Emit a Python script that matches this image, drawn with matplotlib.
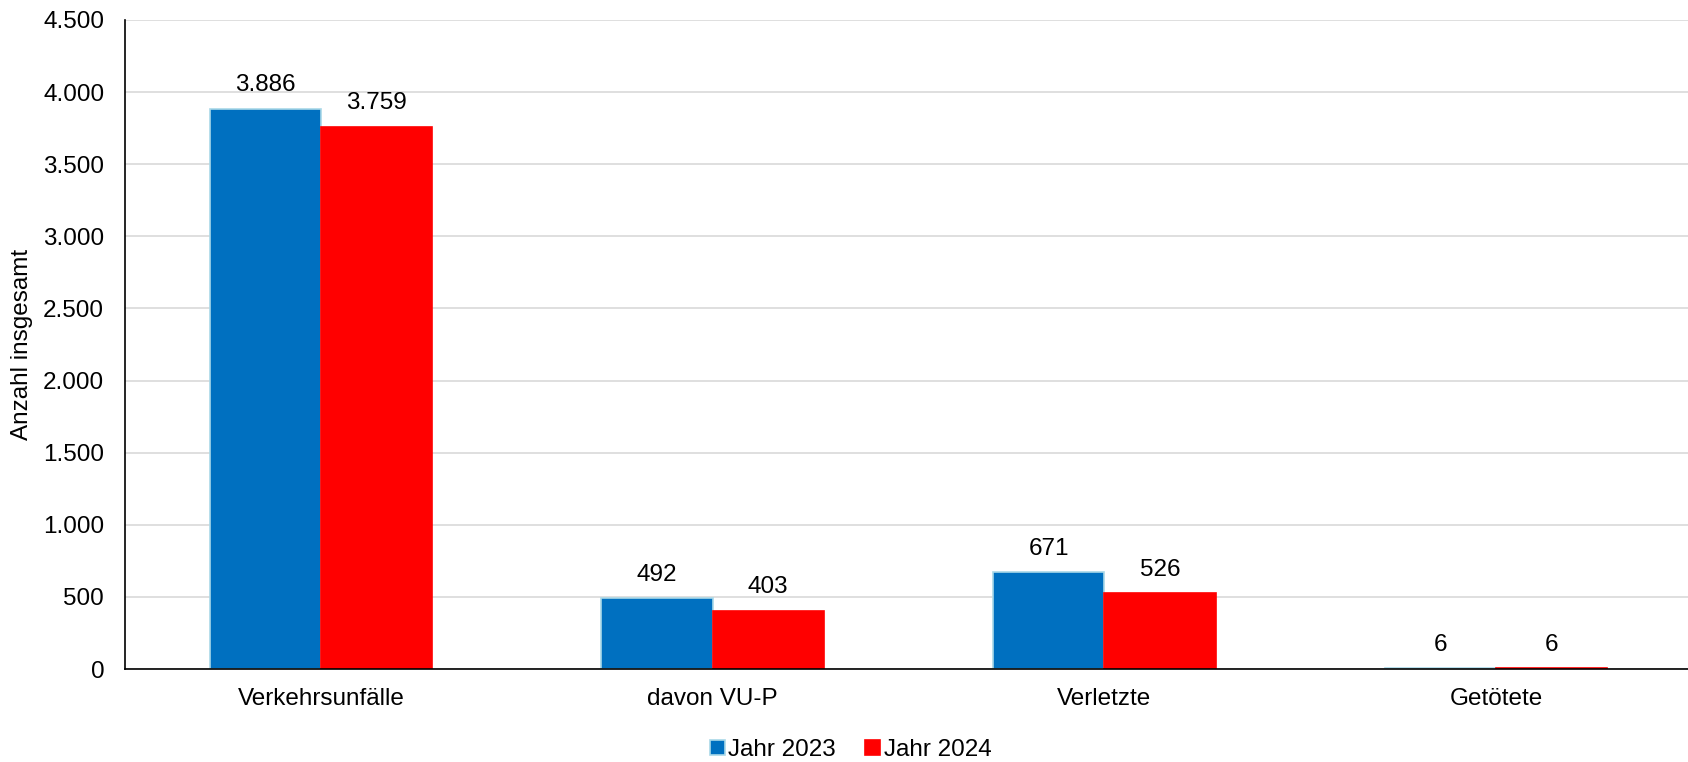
import matplotlib.pyplot as plt
from matplotlib.ticker import FuncFormatter
import numpy as np

plt.rcParams['font.family'] = ['Liberation Sans', 'DejaVu Sans']

kategorien = ['Verkehrsunfälle', 'davon VU-P', 'Verletzte', 'Getötete']
jahr_2023 = [3886, 492, 671, 6]
jahr_2024 = [3759, 403, 526, 6]


def de_format(v, pos=None):
    return '{:,.0f}'.format(v).replace(',', '.')


fig = plt.figure(figsize=(16.88, 7.62), dpi=100)
ax = fig.add_axes([125 / 1688, 1 - 669 / 762, 1567 / 1688, (669 - 20) / 762])

x = np.arange(len(kategorien))
w = 0.284
b1 = ax.bar(x - w / 2, jahr_2023, w, color='#0070C0', edgecolor='#A9D8E8', linewidth=1.2, label='Jahr 2023')
b2 = ax.bar(x + w / 2, jahr_2024, w, color='#FF0000', edgecolor='#FF0000', linewidth=1.2, label='Jahr 2024')

fs = 17.5
for bars, vals in [(b1, jahr_2023), (b2, jahr_2024)]:
    for r, v in zip(bars, vals):
        ax.annotate(de_format(v), (r.get_x() + r.get_width() / 2, v),
                    xytext=(0, 9), textcoords='offset points',
                    ha='center', va='bottom', fontsize=fs)

ax.set_xlim(-0.5, 3.5)
ax.set_ylim(0, 4500)
ax.set_yticks(np.arange(0, 4501, 500))
ax.yaxis.set_major_formatter(FuncFormatter(de_format))
ax.set_xticks(x)
ax.set_xticklabels(kategorien)
ax.tick_params(axis='both', length=0, labelsize=fs)
ax.tick_params(axis='x', pad=14)
ax.tick_params(axis='y', pad=15)
ax.set_ylabel('Anzahl insgesamt', fontsize=fs, labelpad=7)

ax.grid(axis='y', color='#D9D9D9', linewidth=1.2)
ax.set_axisbelow(True)
for s in ['top', 'right']:
    ax.spines[s].set_visible(False)
ax.spines['left'].set_linewidth(1.2)
ax.spines['bottom'].set_linewidth(1.2)

fig.legend(loc='center', bbox_to_anchor=(0.504, 1 - 750 / 762), ncol=2, frameon=False,
           fontsize=fs, handlelength=0.6, handleheight=0.6, handletextpad=0.15, columnspacing=1.2)

fig.savefig('out.png', dpi=100)
